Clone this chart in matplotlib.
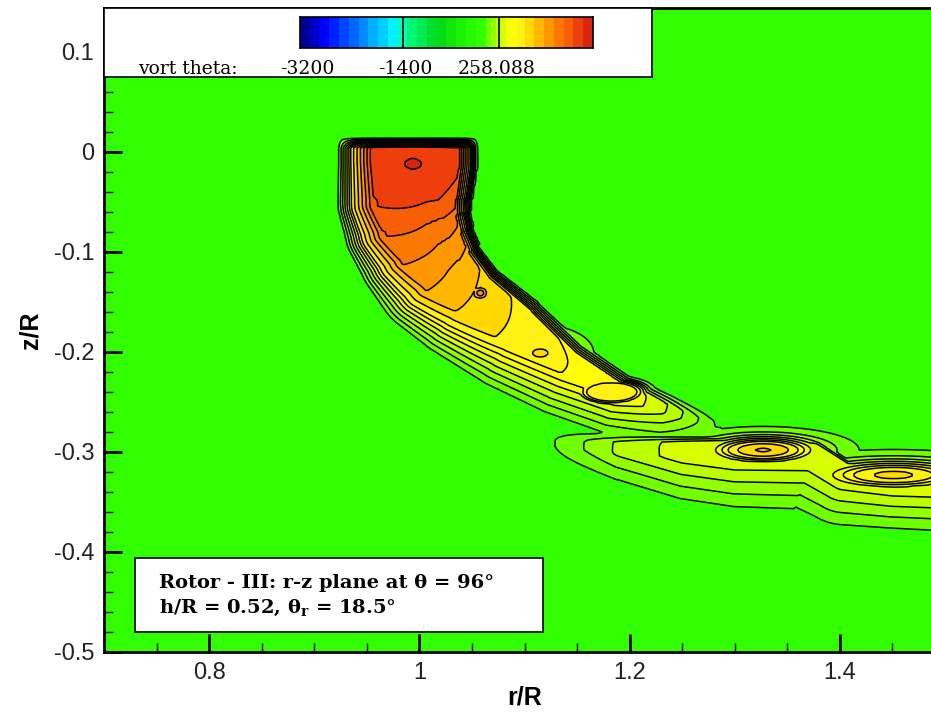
import numpy as np
import matplotlib
matplotlib.use("Agg")
import matplotlib.pyplot as plt
from matplotlib.colors import LinearSegmentedColormap, Normalize
from matplotlib.patches import Rectangle
from matplotlib.ticker import MultipleLocator, FuncFormatter

plt.rcParams["mathtext.fontset"] = "custom"
plt.rcParams["mathtext.rm"] = "DejaVu Serif:bold"
plt.rcParams["mathtext.it"] = "DejaVu Serif:bold"
plt.rcParams["mathtext.bf"] = "DejaVu Serif:bold"

# ---------------- colour scale of vort_theta ----------------
legend_title = "vort theta:"
legend_values = [-3200, -1400, 258.088]
legend_labels = ["-3200", "-1400", "258.088"]
level_min, level_max = -3200.0, 1900.0
negative_step = 170.0
positive_levels = [30, 120, 210, 300, 390, 480, 570, 710, 880, 1050, 1220, 1390, 1560, 1730, 1900]
background_level = -60.0

cmap_pos = [0.00, 0.08, 0.33, 0.36, 0.47, 0.55, 0.62, 0.655, 0.69,
            0.72, 0.75, 0.785, 0.85, 0.92, 0.96, 1.00]
cmap_rgb = [(0.0, 0.0, 0.5), (0.0, 0.0, 1.0), (0.0, 1.0, 1.0), (0.0, 1.0, 0.55),
            (0.0, 0.85, 0.1), (0.1, 0.95, 0.0), (0.2, 1.0, 0.0), (0.55, 1.0, 0.0),
            (0.82, 1.0, 0.0), (1.0, 1.0, 0.0), (1.0, 0.96, 0.08), (1.0, 0.85, 0.0),
            (1.0, 0.6, 0.0), (0.97, 0.36, 0.02), (0.92, 0.22, 0.05), (0.80, 0.10, 0.08)]

# ---------------- vortex sheets: centre line, strength, plateau half width, ramp ----------------
# upper sheet: tip-vortex tube curling down from the blade tip
sheet1_r = [0.990, 0.990, 0.988, 0.992, 1.002, 1.018, 1.045, 1.090, 1.140, 1.190, 1.235, 1.275]
sheet1_z = [0.030, -0.012, -0.050, -0.075, -0.100, -0.125, -0.150, -0.185, -0.215, -0.240, -0.258, -0.272]
sheet1_amp = [1720, 1720, 1600, 1420, 1250, 1070, 880, 660, 570, 500, 300, 60]
sheet1_hw_out = [0.048, 0.048, 0.046, 0.044, 0.041, 0.037, 0.031, 0.030, 0.016, 0.009, 0.006, 0.002]
sheet1_ramp_out = [0.017, 0.017, 0.016, 0.015, 0.014, 0.013, 0.012, 0.012, 0.012, 0.010, 0.010, 0.008]
sheet1_hw_in = [0.035, 0.035, 0.032, 0.028, 0.022, 0.018, 0.014, 0.010, 0.008, 0.006, 0.004, 0.002]
sheet1_ramp_in = [0.032, 0.032, 0.034, 0.036, 0.040, 0.044, 0.046, 0.046, 0.044, 0.040, 0.034, 0.025]
sheet1_dome = 0.14
sheet1_top, sheet1_top_ramp = 0.014, 0.010

# lower sheet: older wake trailing out past r/R = 1.1
sheet2_r = [1.120, 1.190, 1.250, 1.300, 1.375, 1.405, 1.451, 1.520]
sheet2_z = [-0.289, -0.294, -0.296, -0.297, -0.300, -0.320, -0.323, -0.327]
sheet2_amp = [0, 230, 340, 370, 350, 350, 380, 360]
sheet2_hw_out = [0.002, 0.004, 0.006, 0.008, 0.008, 0.008, 0.008, 0.008]
sheet2_ramp_out = [0.008, 0.010, 0.008, 0.006, 0.006, 0.006, 0.006, 0.006]
sheet2_hw_in = [0.004, 0.008, 0.010, 0.012, 0.012, 0.012, 0.012, 0.012]
sheet2_ramp_in = [0.012, 0.030, 0.045, 0.050, 0.050, 0.045, 0.045, 0.045]
sheet2_dome = 0.10

# concentrated pockets of vorticity
pocket_r = [0.994, 1.058, 1.115, 1.183, 1.327, 1.451]
pocket_z = [-0.012, -0.141, -0.201, -0.240, -0.298, -0.323]
pocket_amp = [1870, 1150, 760, 680, 900, 760]
pocket_wr = [0.020, 0.008, 0.020, 0.034, 0.035, 0.050]
pocket_wz = [0.012, 0.007, 0.011, 0.013, 0.009, 0.010]
pocket_power = [1.0, 1.0, 1.0, 2.5, 1.0, 1.0]

# annotation
note_lines = ["Rotor - III: r-z plane at \u03b8 = 96\u00b0",
              "h/R = 0.52, \u03b8$_{\\rm r}$ = 18.5\u00b0"]

# ---------------- field construction ----------------
r = np.linspace(0.70, 1.50, 401)
z = np.linspace(-0.50, 0.144, 323)
R, Z = np.meshgrid(r, z)


def sheet(rs, zs, amp, hw_out, ramp_out, hw_in, ramp_in, dome):
    pts = np.column_stack([rs, zs]).astype(float)
    best = np.full(R.shape, np.inf)
    seg = np.zeros(R.shape, dtype=int)
    tt = np.zeros(R.shape)
    side = np.zeros(R.shape)
    for i in range(len(pts) - 1):
        a, b = pts[i], pts[i + 1]
        ab = b - a
        t = ((R - a[0]) * ab[0] + (Z - a[1]) * ab[1]) / (ab @ ab)
        tc = np.clip(t, 0.0, 1.0)
        d2 = (R - a[0] - tc * ab[0]) ** 2 + (Z - a[1] - tc * ab[1]) ** 2
        cr = ab[0] * (Z - a[1]) - ab[1] * (R - a[0])
        m = d2 < best
        best[m] = d2[m]
        seg[m] = i
        tt[m] = tc[m]
        side[m] = cr[m]
    d = np.sqrt(best)

    def along(v):
        v = np.asarray(v, float)
        return v[seg] * (1 - tt) + v[seg + 1] * tt

    outer = side > 0
    hw = np.where(outer, along(hw_out), along(hw_in))
    ramp = np.where(outer, along(ramp_out), along(ramp_in))
    edge = np.clip((hw + ramp - d) / ramp, 0.0, 1.0)
    crown = 1.0 - dome * np.clip(d / (hw + ramp), 0.0, 1.0) ** 2
    return along(amp) * edge * crown


top_cut = np.clip((sheet1_top - Z) / sheet1_top_ramp, 0.0, 1.0)
comp1 = sheet(sheet1_r, sheet1_z, sheet1_amp, sheet1_hw_out, sheet1_ramp_out,
              sheet1_hw_in, sheet1_ramp_in, sheet1_dome) * top_cut
comp2 = sheet(sheet2_r, sheet2_z, sheet2_amp, sheet2_hw_out, sheet2_ramp_out,
              sheet2_hw_in, sheet2_ramp_in, sheet2_dome)
pockets = []
for pr, pz, pa, wr, wz, pw in zip(pocket_r, pocket_z, pocket_amp,
                                  pocket_wr, pocket_wz, pocket_power):
    q = ((R - pr) / wr) ** 2 + ((Z - pz) / wz) ** 2
    if pw == 1.0:
        pockets.append(pa * np.exp(-0.5 * q) * top_cut)
    else:
        pockets.append(pa * np.exp(-q ** pw) * top_cut)

field = np.maximum.reduce([np.full(R.shape, background_level), comp1, comp2] + pockets)

# ---------------- colours for the flood bands ----------------
levels = np.concatenate([np.arange(level_min, background_level, negative_step),
                         np.asarray(positive_levels, float)])
cmap = LinearSegmentedColormap.from_list("tec", list(zip(cmap_pos, cmap_rgb)))
norm = Normalize(level_min, level_max)
mids = 0.5 * (levels[:-1] + levels[1:])
band_colors = [cmap(norm(m)) for m in mids]

# ---------------- figure ----------------
fig = plt.figure(figsize=(9.31, 7.12), dpi=100)
ax = fig.add_axes([104 / 931, 60 / 712, 841 / 931, 644 / 712])

ax.contourf(R, Z, field, levels=levels, colors=band_colors)
ax.contour(R, Z, field, levels=levels[levels > background_level],
           colors="black", linewidths=1.1)

ax.set_xlim(0.70, 1.50)
ax.set_ylim(-0.50, 0.144)

for s in ["left", "bottom", "top", "right"]:
    ax.spines[s].set_linewidth(2.0)
    ax.spines[s].set_color("black")

fmt = FuncFormatter(lambda v, p: "0" if abs(v) < 1e-9 else f"{v:g}")
ax.xaxis.set_major_locator(MultipleLocator(0.2))
ax.xaxis.set_minor_locator(MultipleLocator(0.05))
ax.yaxis.set_major_locator(MultipleLocator(0.1))
ax.yaxis.set_minor_locator(MultipleLocator(0.02))
ax.xaxis.set_major_formatter(fmt)
ax.yaxis.set_major_formatter(fmt)
ax.tick_params(which="major", direction="in", length=13, width=2.0, color="black",
               labelsize=17, pad=7, top=False, right=False)
ax.tick_params(which="minor", direction="in", length=6.5, width=1.0, color="black",
               top=False, right=False)
for lab in ax.get_xticklabels() + ax.get_yticklabels():
    lab.set_fontfamily("Liberation Sans")
    lab.set_color("#222222")

ax.set_xlabel("r/R", fontsize=18, fontweight="bold", family="Liberation Sans", labelpad=1)
ax.set_ylabel("z/R", fontsize=18, fontweight="bold", family="Liberation Sans", labelpad=8)

# colour legend box in the upper-left corner
ax.add_patch(Rectangle((0.0, 0.893), 0.6516, 0.107, transform=ax.transAxes,
                       facecolor="white", edgecolor="black", linewidth=1.2,
                       zorder=5, clip_on=False))
cax = ax.inset_axes([0.233, 0.938, 0.3484, 0.048], zorder=6)
cax.pcolormesh(levels, [0, 1], mids[np.newaxis, :], cmap=cmap, norm=norm)
for v in legend_values[1:]:
    cax.axvline(v, color="black", linewidth=1.2)
cax.set_xlim(level_min, level_max)
cax.set_xticks([])
cax.set_yticks([])
for s in cax.spines.values():
    s.set_linewidth(1.2)

ax.text(0.0404, 0.897, legend_title, transform=ax.transAxes, ha="left",
        va="baseline", fontsize=13.5, family="DejaVu Serif", zorder=7)
for xpos, lab in zip([0.2414, 0.3579, 0.4673], legend_labels):
    ax.text(xpos, 0.897, lab, transform=ax.transAxes, ha="center",
            va="baseline", fontsize=13.5, family="DejaVu Serif", zorder=7)

# annotation box
ax.add_patch(Rectangle((0.0369, 0.031), 0.4851, 0.115, transform=ax.transAxes,
                       facecolor="white", edgecolor="black", linewidth=1.2, zorder=5))
ax.text(0.0654, 0.0994, note_lines[0], transform=ax.transAxes, ha="left",
        va="baseline", fontsize=14, fontweight="bold", family="DejaVu Serif", zorder=7)
ax.text(0.0654, 0.0606, note_lines[1], transform=ax.transAxes, ha="left",
        va="baseline", fontsize=14, fontweight="bold", family="DejaVu Serif", zorder=7)

fig.savefig("out.png", dpi=100)
